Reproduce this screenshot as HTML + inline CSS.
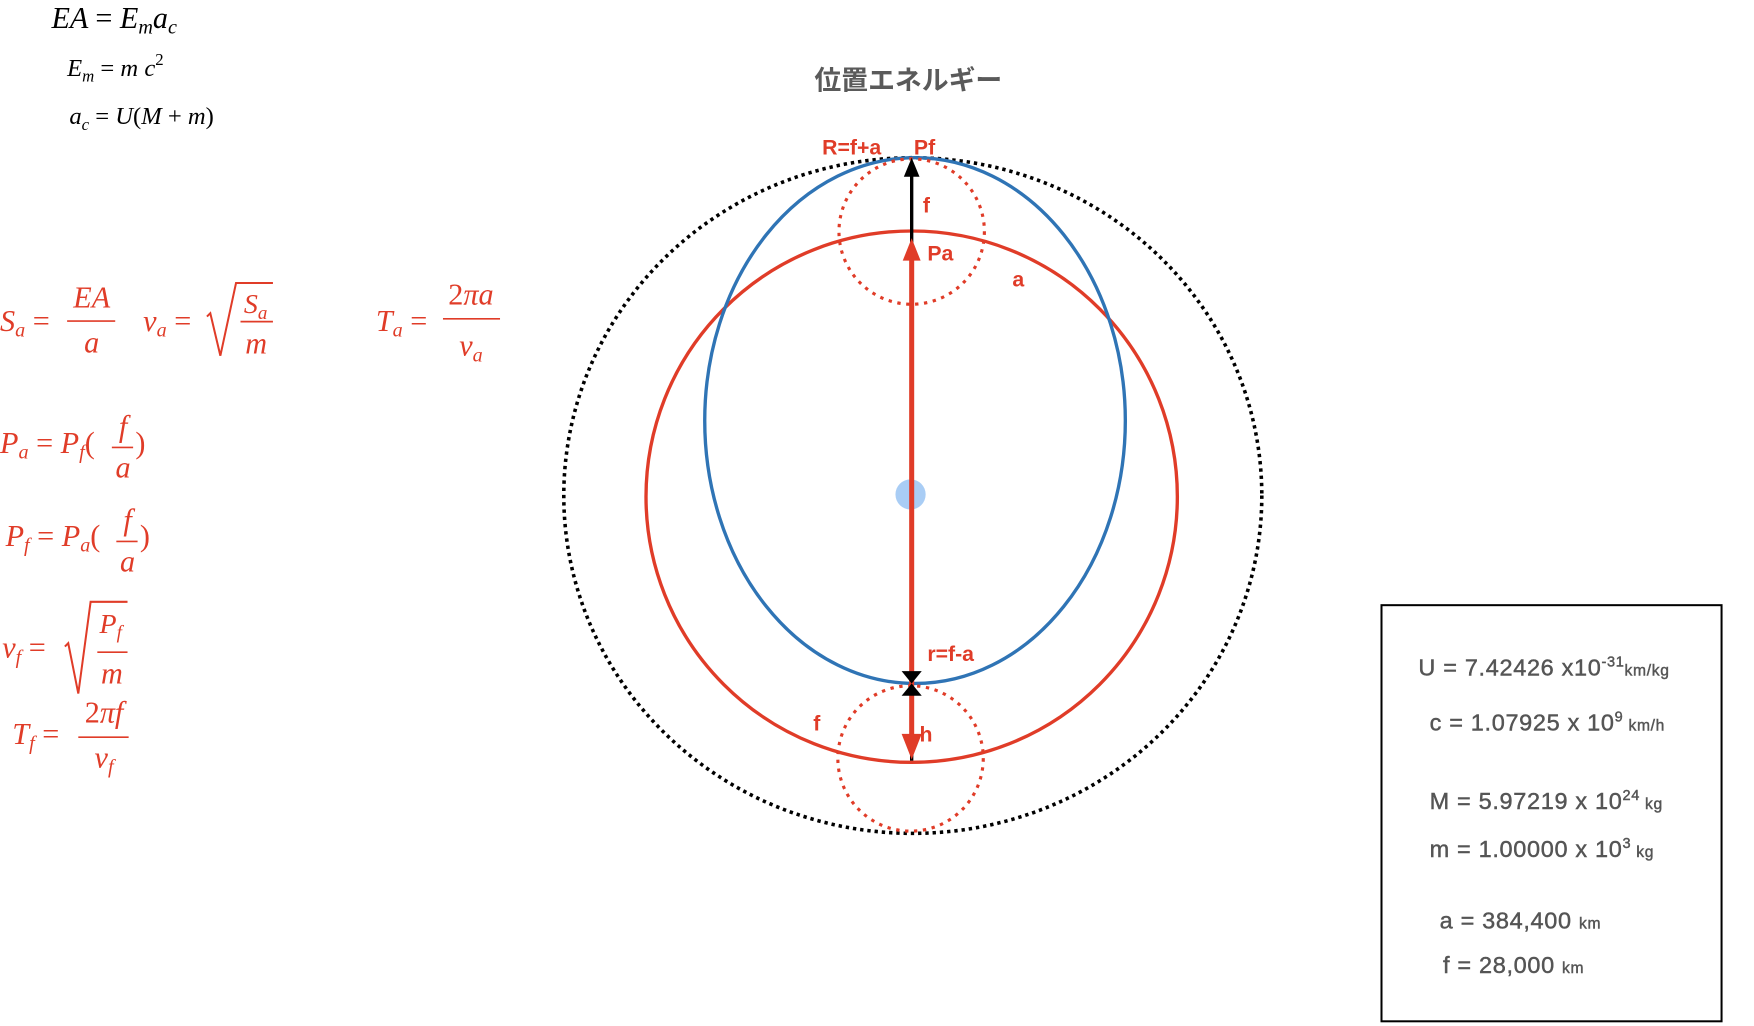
<!DOCTYPE html>
<html><head><meta charset="utf-8"><style>html,body{margin:0;padding:0;background:#fff;overflow:hidden}svg{display:block}</style></head>
<body>
<svg width="1754" height="1026" viewBox="0 0 1568 917.2" xmlns="http://www.w3.org/2000/svg">
<rect width="1568" height="918" fill="#fff"/>
<ellipse cx="816" cy="443" rx="312" ry="302" fill="none" stroke="#000" stroke-width="3.2" stroke-dasharray="3 3.5"/>
<circle cx="815" cy="444" r="237.5" fill="none" stroke="#e03c28" stroke-width="3"/>
<ellipse cx="818" cy="376" rx="188" ry="235" fill="none" stroke="#2f74b5" stroke-width="3"/>
<circle cx="815" cy="207" r="65" fill="none" stroke="#e03c28" stroke-width="2.8" stroke-dasharray="3 5"/>
<circle cx="814" cy="678" r="65" fill="none" stroke="#e03c28" stroke-width="2.8" stroke-dasharray="3 5"/>
<circle cx="814" cy="442" r="13.5" fill="#a9cdf5"/>
<line x1="815" y1="150" x2="815" y2="680" stroke="#000" stroke-width="3"/>
<line x1="815" y1="228" x2="815" y2="660" stroke="#e03c28" stroke-width="4.5"/>
<polygon points="815,141 808,158 822,158" fill="#000"/>
<polygon points="815,213 807,233 823,233" fill="#e03c28"/>
<polygon points="815,611 806,600 824,600" fill="#000"/>
<polygon points="815,611 806,622 824,622" fill="#000"/>
<polygon points="815,679 806,656 824,656" fill="#e03c28"/>
<g font-family="Liberation Sans, sans-serif" font-weight="bold" fill="#e03c28" font-size="19">
<text x="735" y="138">R=f+a</text><text x="817" y="138">Pf</text>
<text x="825" y="190">f</text><text x="829" y="233">Pa</text><text x="905" y="256">a</text>
<text x="829" y="591">r=f-a</text><text x="727" y="653">f</text><text x="822" y="663">h</text>
</g>
<text x="812" y="80" text-anchor="middle" font-family="Liberation Sans, 'Noto Sans CJK JP', sans-serif" font-weight="bold" font-size="24" fill="#5a5a5a">位置エネルギー</text>
<rect x="1235" y="541" width="304" height="372" fill="none" stroke="#000" stroke-width="1.8"/>
<g font-family="Liberation Sans, sans-serif" fill="#555" stroke="#555" stroke-width="0.4" font-size="21" letter-spacing="0.6">
<text x="1268" y="604">U = 7.42426 x10<tspan font-size="13" dy="-8">-31</tspan><tspan font-size="14" dy="8">km/kg</tspan></text>
<text x="1278" y="653">c = 1.07925 x 10<tspan font-size="13" dy="-8">9</tspan><tspan font-size="14" dy="8"> km/h</tspan></text>
<text x="1278" y="723">M = 5.97219 x 10<tspan font-size="13" dy="-8">24</tspan><tspan font-size="14" dy="8"> kg</tspan></text>
<text x="1278" y="766">m = 1.00000 x 10<tspan font-size="13" dy="-8">3</tspan><tspan font-size="14" dy="8"> kg</tspan></text>
<text x="1287" y="830">a = 384,400 <tspan font-size="14">km</tspan></text>
<text x="1290" y="870">f = 28,000 <tspan font-size="14">km</tspan></text>
</g>
<g font-family="Liberation Serif, serif" font-style="italic" fill="#000">
<text x="46" y="25" font-size="27">EA <tspan font-style="normal">=</tspan> E<tspan font-size="18" dy="5">m</tspan><tspan dy="-5">a</tspan><tspan font-size="18" dy="5">c</tspan></text>
<text x="60" y="68" font-size="22">E<tspan font-size="15" dy="5">m</tspan><tspan dy="-5" font-style="normal"> = </tspan>m c<tspan font-size="15" dy="-10" font-style="normal">2</tspan></text>
<text x="62" y="111" font-size="22">a<tspan font-size="15" dy="5">c</tspan><tspan dy="-5" font-style="normal"> = </tspan>U<tspan font-style="normal">(</tspan>M <tspan font-style="normal">+</tspan> m<tspan font-style="normal">)</tspan></text>
</g>
<g font-family="Liberation Serif, serif" font-style="italic" fill="#e03c28" font-size="27">
<text x="0" y="296">S<tspan font-size="18" dy="5">a</tspan><tspan dy="-5" font-style="normal"> =</tspan></text>
<line x1="60" y1="287" x2="103" y2="287" stroke="#e03c28" stroke-width="1.5"/>
<text x="82" y="275" text-anchor="middle">EA</text><text x="82" y="315" text-anchor="middle">a</text>
<text x="128" y="296">v<tspan font-size="18" dy="5">a</tspan><tspan dy="-5" font-style="normal"> =</tspan></text>
<path d="M185,283 L188,280 L197,318 L211,253 L244,253" fill="none" stroke="#e03c28" stroke-width="1.8"/>
<line x1="215" y1="287.5" x2="244" y2="287.5" stroke="#e03c28" stroke-width="1.5"/>
<text x="218" y="280" font-size="25">S<tspan font-size="17" dy="5">a</tspan></text><text x="229" y="316" text-anchor="middle">m</text>
<text x="336" y="296">T<tspan font-size="18" dy="5">a</tspan><tspan dy="-5" font-style="normal"> =</tspan></text>
<line x1="396" y1="285" x2="447" y2="285" stroke="#e03c28" stroke-width="1.5"/>
<text x="421" y="272" text-anchor="middle"><tspan font-style="normal">2</tspan>πa</text>
<text x="421" y="318" text-anchor="middle">v<tspan font-size="18" dy="5">a</tspan></text>
<text x="0" y="405">P<tspan font-size="18" dy="5">a</tspan><tspan dy="-5" font-style="normal"> = </tspan>P<tspan font-size="18" dy="5">f</tspan><tspan dy="-5" font-style="normal">(</tspan></text>
<line x1="100" y1="400" x2="119" y2="400" stroke="#e03c28" stroke-width="1.5"/>
<text x="110" y="390" text-anchor="middle">f</text><text x="110" y="427" text-anchor="middle">a</text>
<text x="121" y="405" font-style="normal">)</text>
<text x="5" y="488">P<tspan font-size="18" dy="5">f</tspan><tspan dy="-5" font-style="normal"> = </tspan>P<tspan font-size="18" dy="5">a</tspan><tspan dy="-5" font-style="normal">(</tspan></text>
<line x1="104" y1="484" x2="123" y2="484" stroke="#e03c28" stroke-width="1.5"/>
<text x="114" y="474" text-anchor="middle">f</text><text x="114" y="511" text-anchor="middle">a</text>
<text x="125" y="488" font-style="normal">)</text>
<text x="2" y="588">v<tspan font-size="18" dy="5">f</tspan><tspan dy="-5" font-style="normal"> =</tspan></text>
<path d="M58,578 L61,575 L70,620 L81,538 L114,538" fill="none" stroke="#e03c28" stroke-width="1.8"/>
<line x1="87" y1="583" x2="114" y2="583" stroke="#e03c28" stroke-width="1.5"/>
<text x="89" y="566" font-size="25">P<tspan font-size="17" dy="5">f</tspan></text><text x="100" y="611" text-anchor="middle">m</text>
<text x="11" y="665">T<tspan font-size="18" dy="5">f</tspan><tspan dy="-5" font-style="normal"> =</tspan></text>
<line x1="70" y1="659" x2="115" y2="659" stroke="#e03c28" stroke-width="1.5"/>
<text x="93" y="646" text-anchor="middle"><tspan font-style="normal">2</tspan>πf</text>
<text x="93" y="686" text-anchor="middle">v<tspan font-size="18" dy="5">f</tspan></text>
</g>
</svg>
</body></html>
